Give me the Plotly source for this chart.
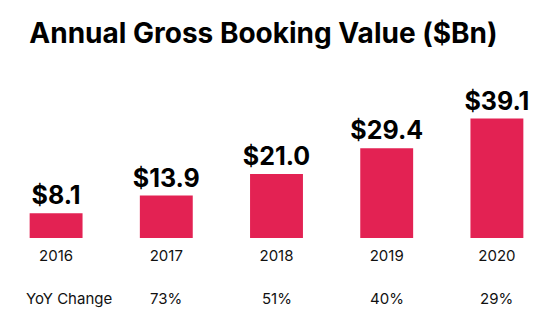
import plotly.graph_objects as go

years = ["2016", "2017", "2018", "2019", "2020"]
gbv = [8.1, 13.9, 21.0, 29.4, 39.1]
value_labels = ["$8.1", "$13.9", "$21.0", "$29.4", "$39.1"]
yoy_labels = ["", "73%", "51%", "40%", "29%"]

FONT = "Inter"
BAR = "#E32253"

fig = go.Figure(go.Bar(
    x=years, y=gbv, marker=dict(color=BAR, line=dict(width=0)),
    text=value_labels, textposition="outside", constraintext="none",
    textfont=dict(family=FONT, size=25, color="#000000", weight=700),
    cliponaxis=False, width=0.48,
))

annotations = [dict(text="YoY Change", xref="paper", yref="paper", x=0.041, y=-0.435,
                    xanchor="left", yanchor="middle", showarrow=False,
                    font=dict(family=FONT, size=15, color="#111111"))]
for i, lab in enumerate(yoy_labels):
    if lab:
        annotations.append(dict(text=lab, xref="x", yref="paper", x=i, y=-0.435,
                                xanchor="center", yanchor="middle", showarrow=False,
                                font=dict(family=FONT, size=15, color="#111111")))

fig.update_layout(
    width=554, height=335,
    margin=dict(l=1, r=2, t=100, b=97),
    paper_bgcolor="white", plot_bgcolor="white",
    showlegend=False,
    title=dict(text="<b>Annual Gross Booking Value ($Bn)</b>", x=0.4756, xanchor="center",
               y=0.9, yanchor="middle", yref="container",
               font=dict(family=FONT, size=28, color="#000000")),
    xaxis=dict(type="category", range=[-0.5, 4.5], showgrid=False, showline=False,
               zeroline=False, ticks="",
               tickfont=dict(family=FONT, size=15, color="#111111"), ticklabelstandoff=7),
    yaxis=dict(visible=False, range=[0, 45.2]),
    annotations=annotations,
)

fig.write_html("out.html")
